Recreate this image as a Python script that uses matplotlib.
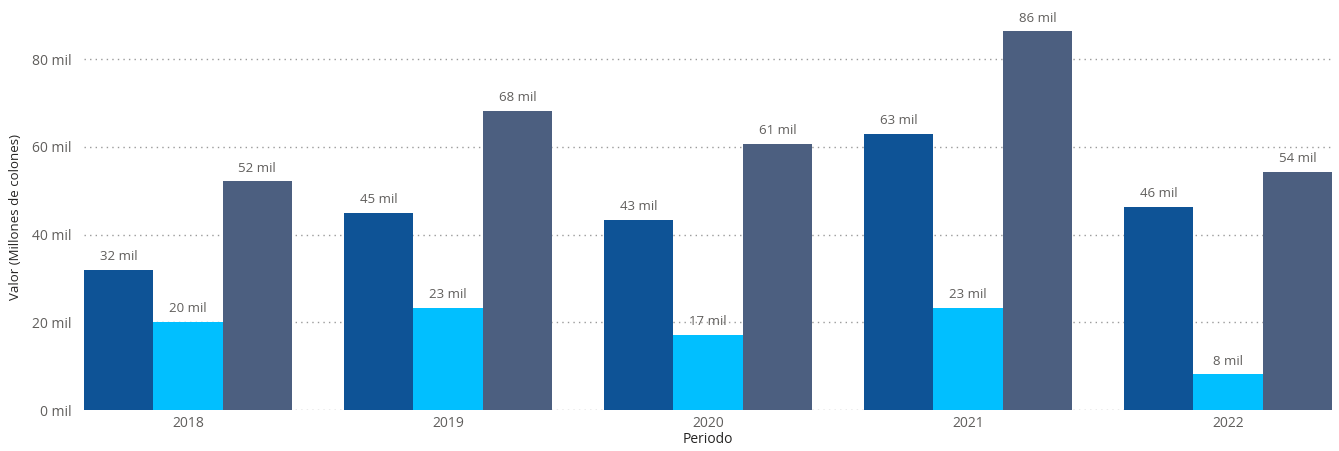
import matplotlib
matplotlib.use("Agg")
import matplotlib.pyplot as plt
import numpy as np

years = ["2018", "2019", "2020", "2021", "2022"]
serie_a = [31.9, 45.0, 43.3, 63.0, 46.3]
serie_b = [20.0, 23.3, 17.2, 23.3, 8.1]
serie_c = [52.1, 68.2, 60.6, 86.3, 54.3]
labels_a = ["32 mil", "45 mil", "43 mil", "63 mil", "46 mil"]
labels_b = ["20 mil", "23 mil", "17 mil", "23 mil", "8 mil"]
labels_c = ["52 mil", "68 mil", "61 mil", "86 mil", "54 mil"]
yticks = [0, 20, 40, 60, 80]
ytick_labels = ["0 mil", "20 mil", "40 mil", "60 mil", "80 mil"]

colors = ["#0E5396", "#01BFFF", "#4C5F80"]
text_color = "#605E5C"

plt.rcParams['font.family'] = ['Open Sans', 'DejaVu Sans']

W, H = 1339, 451
fig = plt.figure(figsize=(W / 100, H / 100), dpi=100)
ax = fig.add_axes([84 / W, 41 / H, (1332 - 84) / W, (410 - 24) / H])

x = np.arange(len(years))
bw = 0.8 / 3
for i, (vals, labs) in enumerate(zip([serie_a, serie_b, serie_c], [labels_a, labels_b, labels_c])):
    pos = x + (i - 1) * bw
    bars = ax.bar(pos, vals, width=bw, color=colors[i], zorder=3, linewidth=0)
    for b, lab in zip(bars, labs):
        ax.annotate(lab, (b.get_x() + b.get_width() / 2, b.get_height()),
                    xytext=(0, 5), textcoords="offset points", ha="center", va="bottom",
                    fontsize=9.5, color=text_color)

ax.set_xlim(-0.4, len(years) - 0.6)
ax.set_ylim(0, 88)
ax.set_yticks(yticks)
ax.set_yticklabels(ytick_labels)
ax.set_xticks(x)
ax.set_xticklabels(years)
ax.tick_params(axis='both', length=0, colors=text_color, labelsize=10)
ax.tick_params(axis='y', pad=9)
ax.tick_params(axis='x', pad=4)
ax.yaxis.grid(True, linestyle=(0, (1, 3)), color="#9a9a9a", linewidth=1, zorder=0)
for s in ax.spines.values():
    s.set_visible(False)
ax.set_xlabel("Periodo", color="#252423", fontsize=10, labelpad=1)
ax.set_ylabel("Valor (Millones de colones)", color="#252423", fontsize=9.5, labelpad=7)

fig.savefig("out.png", dpi=100)
